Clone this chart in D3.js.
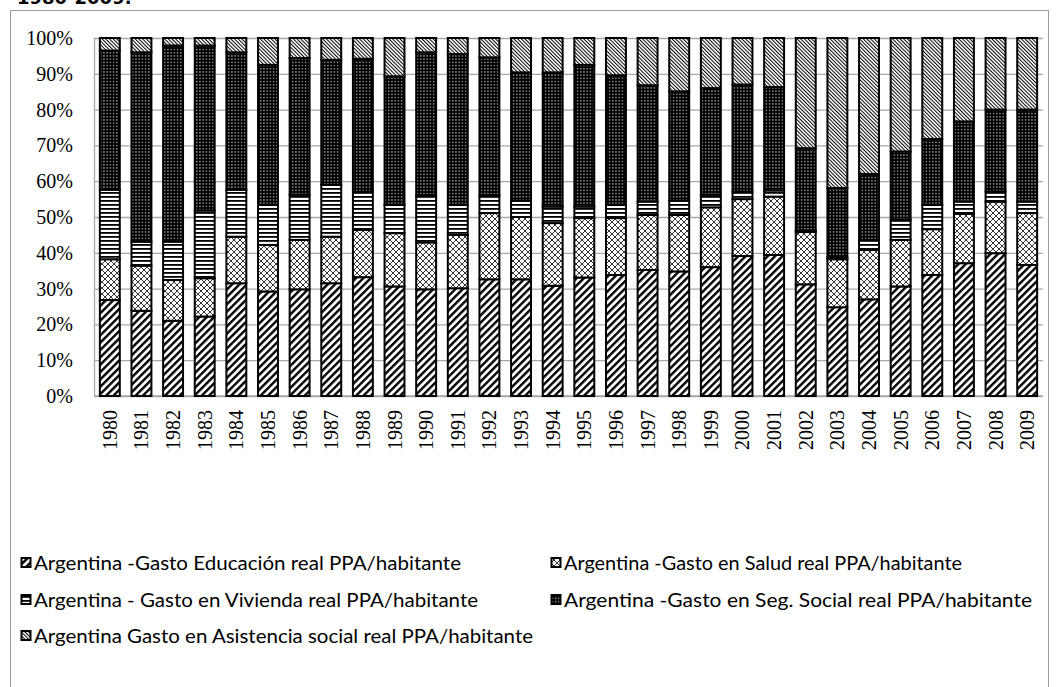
<!DOCTYPE html>
<html>
<head>
<meta charset="utf-8">
<script src="https://cdn.jsdelivr.net/npm/d3@7"></script>
<style>
  html, body { margin: 0; padding: 0; background: #fff; }
  svg { display: block; }
</style>
</head>
<body>
<svg id="chart" width="1058" height="687"></svg>
<script>
// Years on the category axis
const years = ["1980","1981","1982","1983","1984","1985","1986","1987","1988","1989",
               "1990","1991","1992","1993","1994","1995","1996","1997","1998","1999",
               "2000","2001","2002","2003","2004","2005","2006","2007","2008","2009"];

// Share of each spending item (percent of the total for the year)
const educacion  = [26.8,23.8,21.0,22.2,31.5,29.2,29.8,31.5,33.2,30.6,
                    29.8,30.1,32.6,32.6,30.8,33.1,33.8,35.2,34.8,36.0,
                    39.1,39.4,31.2,24.8,27.0,30.6,33.8,37.1,39.9,36.6];
const salud      = [11.4,12.6,11.4,10.7,13.0,13.0,13.8,13.0,13.2,14.9,
                    13.1,14.9,18.5,17.4,17.5,16.6,15.9,15.4,15.8,16.7,
                    15.9,16.3,14.6,13.4,13.8,13.0,12.8,13.8,14.4,14.5];
const vivienda   = [19.4,6.7,10.7,18.9,13.1,11.2,12.6,14.5,10.7,7.9,
                    13.1,8.4,4.9,4.6,4.6,3.2,3.7,3.7,4.0,3.5,
                    2.1,1.7,0.4,0.5,2.8,5.6,6.8,3.4,2.8,3.2];
const segSocial  = [38.9,52.9,54.8,46.1,38.4,39.1,38.2,34.9,37.1,35.9,
                    40.0,42.1,38.6,35.8,37.5,39.6,36.2,32.5,30.5,29.8,
                    29.9,28.9,23.0,19.4,18.4,19.1,18.4,22.4,22.9,25.7];
const asistencia = [3.5,4.0,2.1,2.1,4.0,7.5,5.6,6.1,5.8,10.7,
                    4.0,4.5,5.4,9.6,9.6,7.5,10.4,13.2,14.9,14.0,
                    13.0,13.7,30.8,41.9,38.0,31.7,28.2,23.3,20.0,20.0];

const seriesKeys = ["edu","salud","viv","seg","asis"];
const seriesNames = {
  edu:  "Argentina -Gasto Educación real PPA/habitante",
  salud:"Argentina -Gasto en Salud real PPA/habitante",
  viv:  "Argentina - Gasto en Vivienda real PPA/habitante",
  seg:  "Argentina -Gasto en Seg. Social real PPA/habitante",
  asis: "Argentina Gasto en Asistencia social real PPA/habitante"
};
const yTicks = [0,0.1,0.2,0.3,0.4,0.5,0.6,0.7,0.8,0.9,1];

const rows = years.map((y, i) => ({
  year: y, edu: educacion[i], salud: salud[i], viv: vivienda[i],
  seg: segSocial[i], asis: asistencia[i]
}));

const svg = d3.select("#chart");

// ---- hatch patterns ----
const defs = svg.append("defs");
// wide "/" stripes
const pEdu = defs.append("pattern").attr("id","p-edu").attr("patternUnits","userSpaceOnUse")
  .attr("width",5.2).attr("height",10).attr("patternTransform","rotate(45)");
pEdu.append("rect").attr("width",5.2).attr("height",10).attr("fill","#fff");
pEdu.append("rect").attr("width",2.4).attr("height",10).attr("fill","#000");
// thin diagonal cross-hatch
const pSal = defs.append("pattern").attr("id","p-salud").attr("patternUnits","userSpaceOnUse")
  .attr("width",6).attr("height",6);
pSal.append("rect").attr("width",6).attr("height",6).attr("fill","#fff");
pSal.append("path").attr("d","M0,0L6,6M6,0L0,6M-1,5L1,7M5,-1L7,1M-1,1L1,-1M5,7L7,5")
  .attr("stroke","#000").attr("stroke-width",0.8).attr("fill","none");
// horizontal stripes
const pViv = defs.append("pattern").attr("id","p-viv").attr("patternUnits","userSpaceOnUse")
  .attr("width",8).attr("height",4);
pViv.append("rect").attr("width",8).attr("height",4).attr("fill","#fff");
pViv.append("rect").attr("width",8).attr("height",1.8).attr("fill","#000");
// black with white dots
const pSeg = defs.append("pattern").attr("id","p-seg").attr("patternUnits","userSpaceOnUse")
  .attr("width",3.2).attr("height",3.2);
pSeg.append("rect").attr("width",3.2).attr("height",3.2).attr("fill","#000");
pSeg.append("rect").attr("x",1).attr("y",1).attr("width",1.1).attr("height",1.1).attr("fill","#fff");
// fine "\" stripes
const pAsis = defs.append("pattern").attr("id","p-asis").attr("patternUnits","userSpaceOnUse")
  .attr("width",2.6).attr("height",10).attr("patternTransform","rotate(-45)");
pAsis.append("rect").attr("width",2.6).attr("height",10).attr("fill","#fff");
pAsis.append("rect").attr("width",1).attr("height",10).attr("fill","#000");

const fills = {edu:"url(#p-edu)", salud:"url(#p-salud)", viv:"url(#p-viv)", seg:"url(#p-seg)", asis:"url(#p-asis)"};

// ---- frame and heading (top of the page) ----
svg.append("rect").attr("x",10.5).attr("y",10.5).attr("width",1038).attr("height",700)
  .attr("fill","none").attr("stroke","#9a9a9a").attr("stroke-width",1);
svg.append("text").attr("x",17).attr("y",4)
  .attr("font-family","DejaVu Sans, Verdana, sans-serif").attr("font-weight","bold")
  .attr("font-size",18).attr("fill","#000").text("1980-2009.");

// ---- scales ----
const plot = {left:94, right:1043, top:38, bottom:396};
const x = d3.scaleBand().domain(years).range([plot.left, plot.right])
  .paddingInner(0.37).paddingOuter(0.185);
const y = d3.scaleLinear().domain([0,1]).range([plot.bottom, plot.top]);

// gridlines
svg.append("g").attr("class","grid")
  .attr("transform",`translate(${plot.left},0)`)
  .call(d3.axisLeft(y).tickValues(yTicks).tickSize(-(plot.right-plot.left)).tickFormat(""))
  .call(g => g.select(".domain").remove())
  .call(g => g.selectAll("line").attr("stroke","#a8a8a8").attr("stroke-width",1.3));

// y axis labels
svg.append("g").attr("class","y-axis")
  .attr("transform",`translate(${plot.left},0)`)
  .call(d3.axisLeft(y).tickValues(yTicks).tickSize(0).tickPadding(21).tickFormat(d3.format(".0%")))
  .call(g => g.select(".domain").attr("stroke","#a8a8a8").attr("stroke-width",1.3))
  .call(g => g.selectAll("text").attr("font-family","Liberation Serif, Times New Roman, serif")
    .attr("font-size",20).attr("fill","#000"));

// bottom axis line with rotated year labels
svg.append("g").attr("class","x-axis")
  .attr("transform",`translate(0,${plot.bottom})`)
  .call(d3.axisBottom(x).tickSize(0).tickPadding(0))
  .call(g => g.select(".domain").attr("stroke","#a8a8a8").attr("stroke-width",1.3)
    .attr("d",`M${plot.left},0H${plot.right}`))
  .call(g => g.selectAll("text")
    .attr("font-family","Liberation Serif, Times New Roman, serif")
    .attr("font-size",20).attr("fill","#000")
    .attr("text-anchor","end").attr("dy","0.35em")
    .attr("transform","translate(0,14) rotate(-90)").attr("x",0).attr("y",0));

// ---- stacked 100% bars ----
const stacked = d3.stack().keys(seriesKeys).offset(d3.stackOffsetExpand)(rows);
const layers = svg.append("g").selectAll("g").data(stacked).join("g")
  .attr("fill", d => fills[d.key]);
layers.selectAll("rect").data(d => d).join("rect")
  .attr("x", d => x(d.data.year))
  .attr("width", x.bandwidth())
  .attr("y", d => y(d[1]))
  .attr("height", d => y(d[0]) - y(d[1]))
  .attr("stroke","#000").attr("stroke-width",2);

// ---- legend ----
const legendItems = [
  {key:"edu",  x:21,  y:563, len:427},
  {key:"salud",x:551, y:563, len:398},
  {key:"viv",  x:21,  y:600, len:444},
  {key:"seg",  x:551, y:600, len:468},
  {key:"asis", x:21,  y:636, len:499}
];
const lg = svg.append("g").selectAll("g").data(legendItems).join("g")
  .attr("transform", d => `translate(${d.x},${d.y})`);
lg.append("rect").attr("x",0.5).attr("y",-5).attr("width",9).attr("height",9)
  .attr("fill", d => fills[d.key]).attr("stroke","#000").attr("stroke-width",2);
lg.append("text").attr("x",13).attr("y",0).attr("dy","0.35em")
  .attr("font-family","Lato, Open Sans, sans-serif").attr("font-size",19.5).attr("fill","#000")
  .attr("textLength", d => d.len).attr("lengthAdjust","spacingAndGlyphs")
  .text(d => seriesNames[d.key]);
</script>
</body>
</html>
